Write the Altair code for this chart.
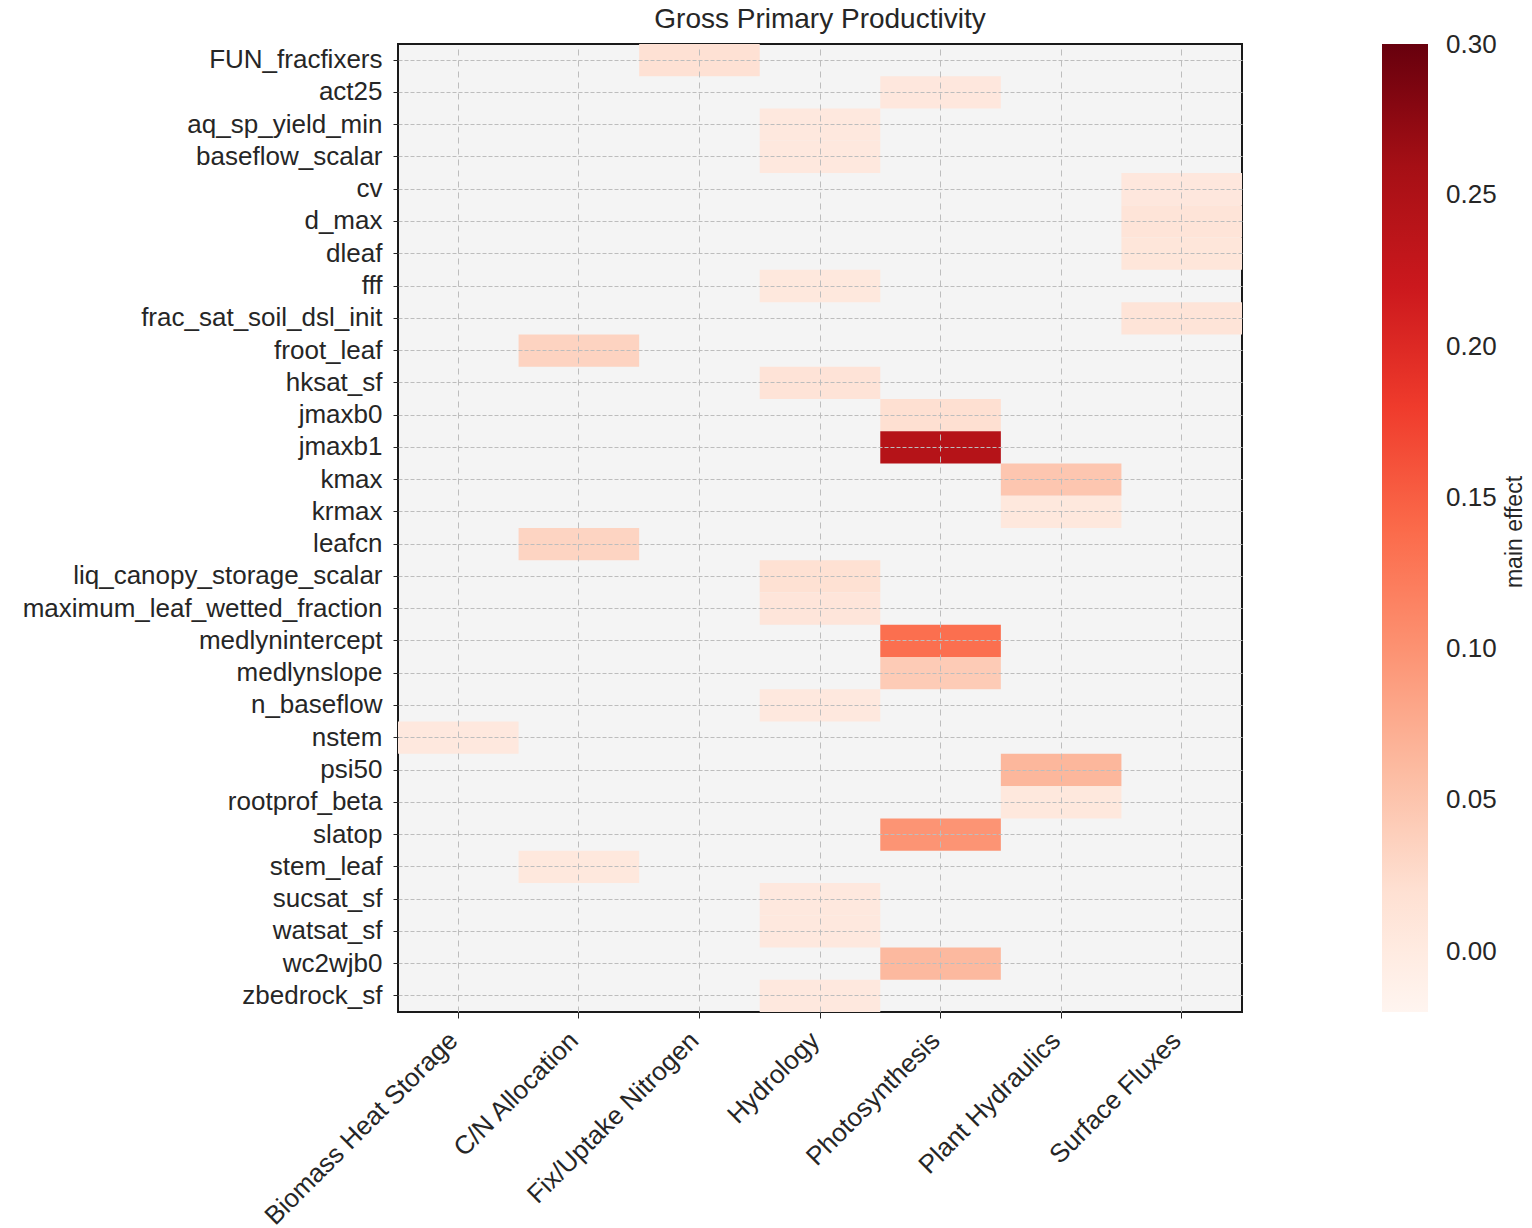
import altair as alt
import pandas as pd

params = ["FUN_fracfixers", "act25", "aq_sp_yield_min", "baseflow_scalar", "cv", "d_max",
          "dleaf", "fff", "frac_sat_soil_dsl_init", "froot_leaf", "hksat_sf", "jmaxb0",
          "jmaxb1", "kmax", "krmax", "leafcn", "liq_canopy_storage_scalar",
          "maximum_leaf_wetted_fraction", "medlynintercept", "medlynslope", "n_baseflow",
          "nstem", "psi50", "rootprof_beta", "slatop", "stem_leaf", "sucsat_sf",
          "watsat_sf", "wc2wjb0", "zbedrock_sf"]

categories = ["Biomass Heat Storage", "C/N Allocation", "Fix/Uptake Nitrogen", "Hydrology",
              "Photosynthesis", "Plant Hydraulics", "Surface Fluxes"]

param_category = ["Fix/Uptake Nitrogen", "Photosynthesis", "Hydrology", "Hydrology",
                  "Surface Fluxes", "Surface Fluxes", "Surface Fluxes", "Hydrology",
                  "Surface Fluxes", "C/N Allocation", "Hydrology", "Photosynthesis",
                  "Photosynthesis", "Plant Hydraulics", "Plant Hydraulics", "C/N Allocation",
                  "Hydrology", "Hydrology", "Photosynthesis", "Photosynthesis", "Hydrology",
                  "Biomass Heat Storage", "Plant Hydraulics", "Plant Hydraulics",
                  "Photosynthesis", "C/N Allocation", "Hydrology", "Hydrology",
                  "Photosynthesis", "Hydrology"]

main_effect = [0.018, 0.006, 0.004, 0.004, 0.006, 0.012, 0.009, 0.005, 0.012, 0.034,
               0.014, 0.020, 0.243, 0.048, 0.005, 0.033, 0.019, 0.010, 0.135, 0.043,
               0.004, 0.004, 0.064, 0.005, 0.098, 0.005, 0.004, 0.004, 0.062, 0.004]

color_domain = [-0.02, 0.02, 0.06, 0.10, 0.14, 0.18, 0.22, 0.26, 0.30]
color_range = ["#fff5f0", "#fee0d2", "#fcbba1", "#fc9272", "#fb6a4a",
               "#ef3b2c", "#cb181d", "#a50f15", "#67000d"]
legend_values = [0.0, 0.05, 0.10, 0.15, 0.20, 0.25, 0.2996]
legend_title = "main effect"

df = pd.DataFrame({"param": params, "category": param_category, "value": main_effect})

FONT = "Liberation Sans"
TXT = "#262626"
W, H = 844, 968

heat = alt.Chart(df).mark_rect().encode(
    x=alt.X("category:N", scale=alt.Scale(domain=categories, paddingInner=0, paddingOuter=0),
            axis=alt.Axis(title=None, labelAngle=-45, labelAlign="right", labelBaseline="top",
                          labelFontSize=26, labelFont=FONT, labelColor=TXT, labelPadding=9,
                          labelOffset=-14, labelLimit=0,
                          tickSize=6, tickColor="#262626", domain=False,
                          grid=True, gridDash=[6, 5], gridColor="#bdbdbd", gridWidth=1)),
    y=alt.Y("param:N", scale=alt.Scale(domain=params, paddingInner=0, paddingOuter=0),
            axis=alt.Axis(title=None, labelFontSize=26, labelFont=FONT, labelColor=TXT,
                          labelPadding=11, labelLimit=0, tickSize=5, tickColor="#262626",
                          domain=False,
                          grid=True, gridDash=[4, 2], gridColor="#bdbdbd", gridWidth=1)),
    color=alt.Color("value:Q",
                    scale=alt.Scale(domain=color_domain, range=color_range, interpolate="rgb"),
                    legend=alt.Legend(title=None, values=legend_values, format=".2f",
                                      orient="right", offset=140, gradientLength=H,
                                      gradientThickness=46, gradientStrokeWidth=0,
                                      labelFontSize=26, labelFont=FONT, labelColor=TXT,
                                      labelOffset=18, labelBaseline="middle"))
)

title_txt = alt.Chart(pd.DataFrame({"t": [legend_title]})).mark_text(
    angle=270, font=FONT, fontSize=23, color=TXT, align="center", baseline="middle"
).encode(x=alt.value(1117), y=alt.value(H / 2 + 4), text="t:N")

chart = alt.layer(heat, title_txt).properties(
    width=W, height=H,
    title=alt.TitleParams("Gross Primary Productivity", fontSize=28, font=FONT, color=TXT,
                          fontWeight="normal", offset=10),
    padding={"left": 22, "top": 6, "right": 0, "bottom": 0}
).configure_view(
    fill="#f4f4f4", stroke="#1a1a1a", strokeWidth=2
)

chart.save("out.html", embed_options={"renderer": "svg", "actions": False})
